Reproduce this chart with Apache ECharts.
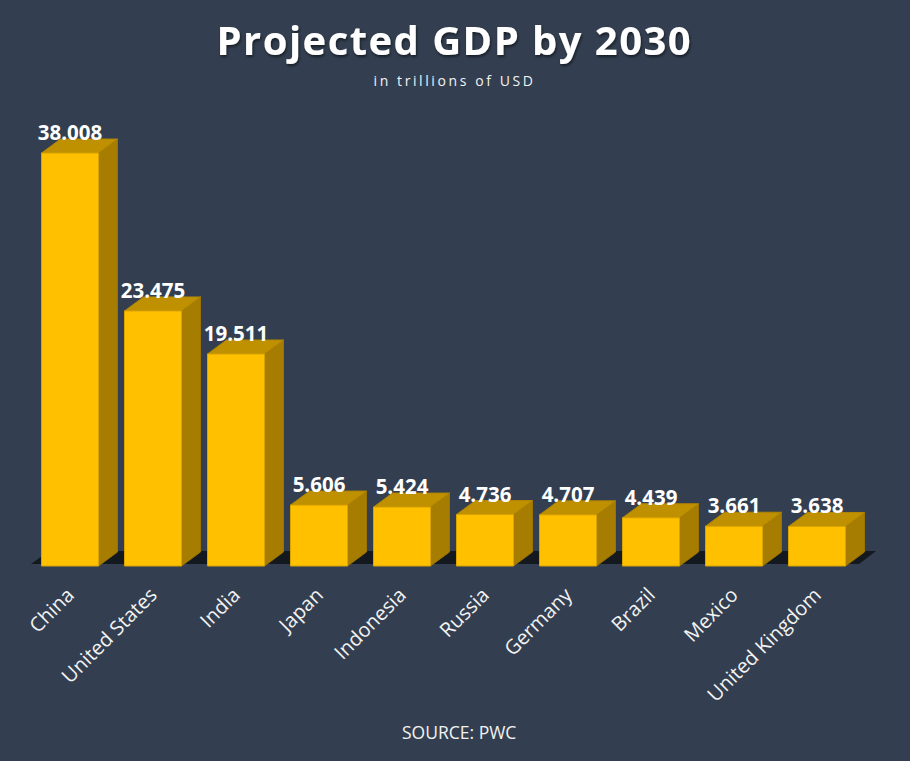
<!DOCTYPE html>
<html>
<head>
<meta charset="utf-8">
<title>Projected GDP by 2030</title>
<script src="https://cdn.jsdelivr.net/npm/echarts@6/dist/echarts.min.js"></script>
<style>
html, body { margin: 0; padding: 0; background: #333f50; }
#chart { width: 910px; height: 761px; }
/* echarts no tiene letter-spacing: con renderer svg se pone por css */
#chart text[style*="40px"] { letter-spacing: 1.45px; }
#chart text[style*="14px"] { letter-spacing: 2.6px; }
</style>
</head>
<body>
<div id="chart"></div>
<script>
var paises = ['China', 'United States', 'India', 'Japan', 'Indonesia', 'Russia', 'Germany', 'Brazil', 'Mexico', 'United Kingdom'];
var gdp2030 = [38.008, 23.475, 19.511, 5.606, 5.424, 4.736, 4.707, 4.439, 3.661, 3.638];

var fuente = 'Open Sans';
var anchoBarra = 57;
var fondoX = 19;
var fondoY = 14;

// caja 3D: frente, tapa y lado
function dibujarBarra(params, api) {
    var idx = api.value(0);
    var arriba = api.coord([idx, api.value(1)]);
    var abajo = api.coord([idx, 0]);
    var x0 = arriba[0] - anchoBarra / 2;
    var x1 = x0 + anchoBarra;
    var y0 = arriba[1];
    var y1 = abajo[1];
    return {
        type: 'group',
        children: [{
            type: 'polygon',
            shape: { points: [[x1, y0], [x1 + fondoX, y0 - fondoY], [x1 + fondoX, y1 - fondoY], [x1, y1]] },
            style: { fill: '#a67d00', stroke: '#997300', lineWidth: 1 }
        }, {
            type: 'polygon',
            shape: { points: [[x0, y0], [x0 + fondoX, y0 - fondoY], [x1 + fondoX, y0 - fondoY], [x1, y0]] },
            style: { fill: '#bf9000', stroke: '#b38600', lineWidth: 1 }
        }, {
            type: 'rect',
            shape: { x: x0, y: y0, width: anchoBarra, height: y1 - y0 },
            style: { fill: '#ffc000', stroke: '#d9a300', lineWidth: 1 }
        }, {
            type: 'text',
            style: {
                text: api.value(1).toFixed(3),
                x: arriba[0],
                y: y0 - 10.5,
                align: 'center',
                verticalAlign: 'bottom',
                fill: '#ffffff',
                font: 'bold 20.5px "' + fuente + '"'
            },
            z2: 10
        }]
    };
}

function dibujarPiso(params) {
    var g = params.coordSys;
    var base = g.y + g.height - 2;
    return {
        type: 'polygon',
        shape: { points: [[31, base], [49, base - 13], [876, base - 13], [859, base]] },
        style: { fill: '#14181f' }
    };
}

var chart = echarts.init(document.getElementById('chart'), null, { renderer: 'svg' });
chart.setOption({
    backgroundColor: '#333f50',
    animation: false,
    title: [{
        text: 'Projected GDP by 2030',
        left: 211.5,
        top: 14,
        textStyle: {
            color: '#ffffff',
            fontFamily: fuente,
            fontWeight: 'bold',
            fontSize: 40,
            textShadowColor: 'rgba(0,0,0,0.55)',
            textShadowBlur: 3,
            textShadowOffsetX: 1,
            textShadowOffsetY: 2
        }
    }, {
        text: 'in trillions of USD',
        left: 368.5,
        top: 68,
        textStyle: { color: '#f2f2f2', fontFamily: fuente, fontWeight: 'normal', fontSize: 14 }
    }, {
        text: 'SOURCE: PWC',
        left: 397,
        top: 718,
        textStyle: { color: '#f2f2f2', fontFamily: fuente, fontWeight: 'normal', fontSize: 17.5 }
    }],
    grid: { left: 28.5, width: 830, top: 131.4, height: 434.6 },
    xAxis: {
        type: 'category',
        data: paises,
        axisLine: { show: false },
        axisTick: { show: false },
        axisLabel: {
            interval: 0,
            rotate: 45,
            margin: 25,
            color: '#f2f2f2',
            fontFamily: fuente,
            fontSize: 20
        }
    },
    yAxis: { type: 'value', min: 0, max: 40, show: false, splitLine: { show: false } },
    series: [{
        type: 'custom',
        renderItem: dibujarPiso,
        data: [[0, 0]],
        clip: false,
        silent: true,
        z: 1
    }, {
        type: 'custom',
        renderItem: dibujarBarra,
        data: paises.map(function(p, i) { return [i, gdp2030[i]]; }),
        encode: { x: 0, y: 1 },
        clip: false,
        z: 2
    }]
});
</script>
</body>
</html>
